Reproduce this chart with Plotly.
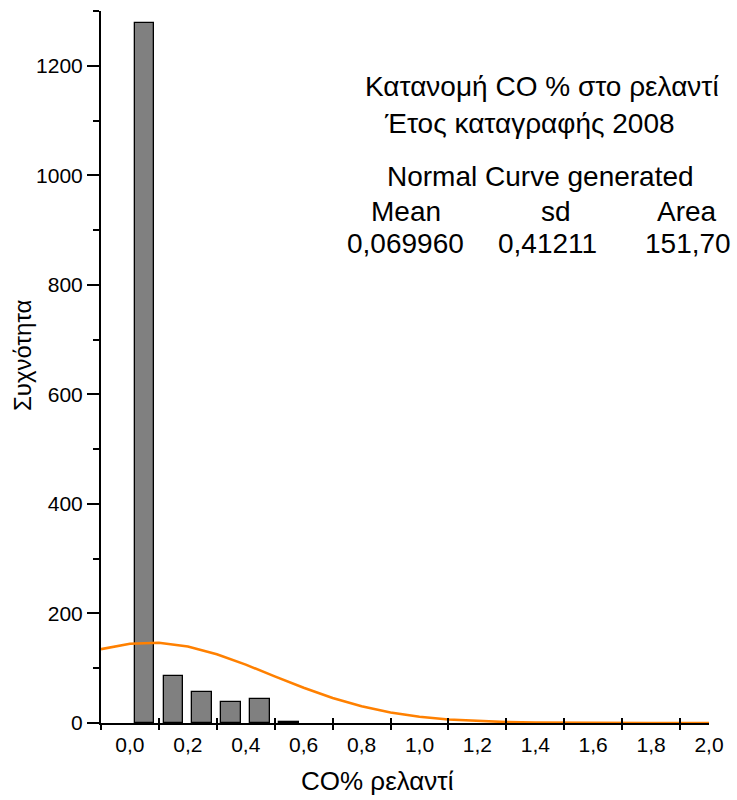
import numpy as np
import plotly.graph_objects as go

# Histogram of idle CO % (bins of width 0.1)
bin_centers = [0.05, 0.15, 0.25, 0.35, 0.45, 0.55]
counts = [1279, 86, 56, 39, 43, 1]

# Fitted normal curve parameters
curve_mean = 0.069960
curve_sd = 0.41211
curve_area = 151.70
curve_x = np.round(np.arange(-0.1, 2.0001, 0.1), 2)
curve_y = curve_area / (curve_sd * np.sqrt(2 * np.pi)) * np.exp(-0.5 * ((curve_x - curve_mean) / curve_sd) ** 2)

# Axis ticks
x_label_vals = [0.0, 0.2, 0.4, 0.6, 0.8, 1.0, 1.2, 1.4, 1.6, 1.8, 2.0]
x_label_text = ["0,0", "0,2", "0,4", "0,6", "0,8", "1,0", "1,2", "1,4", "1,6", "1,8", "2,0"]
x_edge_vals = [-0.1, 0.1, 0.3, 0.5, 0.7, 0.9, 1.1, 1.3, 1.5, 1.7, 1.9]
y_major_vals = [0, 200, 400, 600, 800, 1000, 1200]

FONT = "Liberation Sans, Arial, sans-serif"

fig = go.Figure()
fig.add_trace(go.Bar(
    x=bin_centers, y=counts, width=0.068,
    marker=dict(color="#808080", line=dict(color="#000000", width=1.3)),
    showlegend=False, hoverinfo="x+y",
))
fig.add_trace(go.Scatter(
    x=curve_x, y=curve_y, mode="lines", xaxis="x2",
    line=dict(color="#FF8000", width=2.6),
    showlegend=False,
))

fig.update_layout(
    width=737, height=800,
    margin=dict(l=101, r=28, t=11, b=77, autoexpand=False),
    paper_bgcolor="white", plot_bgcolor="white",
    font=dict(family=FONT, color="black"),
    bargap=0,
    xaxis=dict(
        range=[-0.1, 2.0], showgrid=False, zeroline=False,
        showline=True, linecolor="black", linewidth=2,
        tickmode="array", tickvals=x_label_vals, ticktext=x_label_text,
        ticks="outside", ticklen=2, tickcolor="rgba(0,0,0,0)",
        tickfont=dict(size=21, family=FONT),
        minor=dict(tickmode="array", tickvals=x_edge_vals, ticks="outside",
                   ticklen=5, tickwidth=2, tickcolor="black", showgrid=False),
    ),
    xaxis2=dict(
        overlaying="x", matches="x", anchor="y", range=[-0.1, 2.0],
        showgrid=False, zeroline=False, showline=False,
        tickmode="array", tickvals=x_edge_vals, showticklabels=False,
        ticks="inside", ticklen=5, tickwidth=2, tickcolor="black",
    ),
    yaxis=dict(
        range=[0, 1300], showgrid=False, zeroline=False,
        showline=True, linecolor="black", linewidth=2,
        tickmode="array", tickvals=y_major_vals,
        ticks="outside", ticklen=12, tickwidth=2, tickcolor="black",
        tickfont=dict(size=21, family=FONT),
        minor=dict(dtick=100, tick0=0, ticks="outside", ticklen=6,
                   tickwidth=2, tickcolor="black", showgrid=False),
    ),
)

def px_x(px):
    return (px - 101) / 608

def px_y(py):
    return (723 - py) / 712

texts = [
    ("Κατανομή CO % στο ρελαντί", 542, 86),
    ("Έτος καταγραφής 2008", 529, 124),
    ("Normal Curve generated", 540, 177),
    ("Mean", 406, 211),
    ("sd", 556, 211),
    ("Area", 687, 211),
    ("0,069960", 405, 243),
    ("0,41211", 547, 243),
    ("151,70", 688, 243),
]
for txt, cx, cy in texts:
    fig.add_annotation(
        text=txt, xref="paper", yref="paper", x=px_x(cx), y=px_y(cy),
        xanchor="center", yanchor="middle", showarrow=False,
        font=dict(size=28, family=FONT, color="black"),
    )

# Axis titles
fig.add_annotation(
    text="CO% ρελαντί", xref="paper", yref="paper", x=px_x(377), y=px_y(781),
    xanchor="center", yanchor="middle", showarrow=False,
    font=dict(size=26, family=FONT, color="black"),
)
fig.add_annotation(
    text="Συχνότητα", xref="paper", yref="paper", x=px_x(23), y=px_y(355),
    xanchor="center", yanchor="middle", showarrow=False, textangle=-90,
    font=dict(size=24, family=FONT, color="black"),
)

fig.write_html("out.html")
